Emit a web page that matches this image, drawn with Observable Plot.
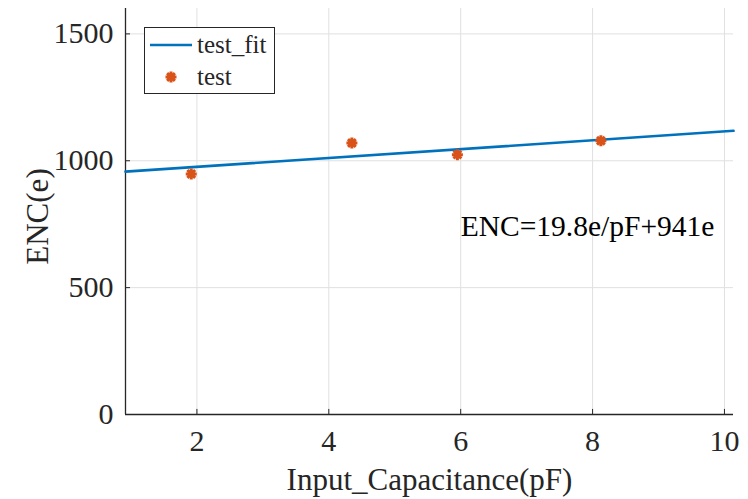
<!DOCTYPE html>
<html>
<head>
<meta charset="utf-8">
<script src="https://cdn.jsdelivr.net/npm/d3@7"></script>
<script src="https://cdn.jsdelivr.net/npm/@observablehq/plot@0.6"></script>
<style>
  html, body { margin: 0; padding: 0; background: #fff; }
  #wrap { position: relative; width: 748px; height: 499px; font-family: "Liberation Serif", "Times New Roman", serif; }
  #legend { position: absolute; left: 144px; top: 27px; width: 129px; height: 65px; border: 1px solid #262626; background: #fff; }
  #legend .row { position: absolute; left: 0; height: 30px; display: flex; align-items: center; font-size: 25px; color: #262626; font-family: "Liberation Serif", serif; }
  #legend svg { display: block; }
</style>
</head>
<body>
<div id="wrap"></div>
<script>
// ---- data ----
const testX = [1.914, 4.35, 5.95, 8.126];
const testY = [948, 1070, 1024, 1079];
const fitX = [0.917, 10.137];
const fitY = [957, 1118];
const xTicks = [2, 4, 6, 8, 10];
const yTicks = [0, 500, 1000, 1500];
const xLabel = "Input_Capacitance(pF)";
const yLabel = "ENC(e)";
const annotationText = ["ENC=19.8e/pF+941e"];
const annotationAt = {x: 6.0, y: 740};
const seriesNames = ["test_fit", "test"];

const blue = "#0072BD";
const orange = "#D95319";
const axisColor = "#262626";
const gridColor = "#e0e0e0";
const xDomain = [0.917, 10.137];
const yDomain = [0, 1600];
const serif = "'Liberation Serif', 'Times New Roman', serif";

// 8-spoke asterisk like MATLAB '*'
const star8 = {
  draw(context, size) {
    const r = Math.sqrt(size / Math.PI);
    for (let i = 0; i < 4; i++) {
      const a = i * Math.PI / 4;
      const dx = r * Math.cos(a), dy = r * Math.sin(a);
      context.moveTo(-dx, -dy);
      context.lineTo(dx, dy);
    }
  }
};

const fit = fitX.map((x, i) => ({x, y: fitY[i]}));
const pts = testX.map((x, i) => ({x, y: testY[i]}));

const chart = Plot.plot({
  width: 748,
  height: 499,
  marginLeft: 125,
  marginRight: 15,
  marginTop: 8,
  marginBottom: 85,
  style: {fontFamily: serif, background: "#fff", color: axisColor},
  x: {domain: xDomain},
  y: {domain: yDomain},
  marks: [
    Plot.gridX(xTicks, {stroke: gridColor, strokeOpacity: 1, strokeWidth: 1}),
    Plot.gridY(yTicks, {stroke: gridColor, strokeOpacity: 1, strokeWidth: 1}),
    Plot.axisX(xTicks, {tickSize: 0, tickPadding: 15, fontSize: 30, fontFamily: serif, fontVariant: "normal", label: null, tickFormat: d => String(d), fill: axisColor}),
    Plot.axisY(yTicks, {tickSize: 0, tickPadding: 12, fontSize: 30, fontFamily: serif, fontVariant: "normal", label: null, tickFormat: d => String(d), fill: axisColor}),
    Plot.ruleX(xTicks, {x: d => d, y1: 0, y2: 20, stroke: axisColor, strokeWidth: 1}),
    Plot.ruleY(yTicks, {y: d => d, x1: xDomain[0], x2: xDomain[0] + 0.076, stroke: axisColor, strokeWidth: 1}),
    Plot.ruleY([0], {stroke: axisColor, strokeWidth: 1.3}),
    Plot.ruleX([xDomain[0]], {stroke: axisColor, strokeWidth: 1.3}),
    Plot.line(fit, {x: "x", y: "y", stroke: blue, strokeWidth: 2.6}),
    Plot.dot(pts, {x: "x", y: "y", symbol: star8, r: 5.5, stroke: orange, strokeWidth: 3, fill: "none"}),
    Plot.text(annotationText, {x: () => annotationAt.x, y: () => annotationAt.y, text: d => d, textAnchor: "start", lineAnchor: "middle", fontSize: 29.5, fontFamily: serif, fill: "#000"}),
    Plot.text([xLabel], {frameAnchor: "bottom", dy: 66, textAnchor: "middle", lineAnchor: "middle", text: d => d, fontSize: 31, fontFamily: serif, fill: axisColor}),
    Plot.text([yLabel], {frameAnchor: "left", dx: -87, dy: 5, rotate: -90, textAnchor: "middle", lineAnchor: "middle", text: d => d, fontSize: 31, fontFamily: serif, fill: axisColor})
  ]
});

const wrap = document.getElementById("wrap");
wrap.appendChild(chart);

// legend
const legend = document.createElement("div");
legend.id = "legend";
const rowLine = document.createElement("div");
rowLine.className = "row";
rowLine.style.top = "2px";
rowLine.innerHTML = `<svg width="52" height="30"><line x1="5" x2="47" y1="15" y2="15" stroke="${blue}" stroke-width="2.6"/></svg><span>${seriesNames[0]}</span>`;
const rowStar = document.createElement("div");
rowStar.className = "row";
rowStar.style.top = "34px";
let starPath = "";
for (let i = 0; i < 4; i++) {
  const a = i * Math.PI / 4, r = 5.5;
  const dx = r * Math.cos(a), dy = r * Math.sin(a);
  starPath += `M${26 - dx},${15 - dy}L${26 + dx},${15 + dy}`;
}
rowStar.innerHTML = `<svg width="52" height="30"><path d="${starPath}" stroke="${orange}" stroke-width="3" fill="none"/></svg><span>${seriesNames[1]}</span>`;
legend.appendChild(rowLine);
legend.appendChild(rowStar);
wrap.appendChild(legend);
</script>
</body>
</html>
